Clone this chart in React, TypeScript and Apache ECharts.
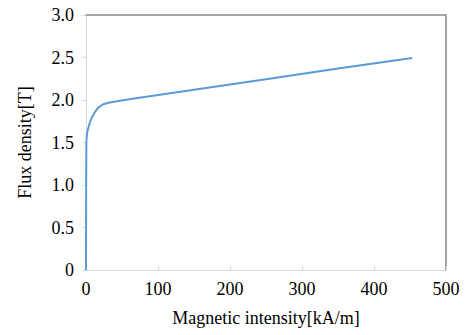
import React, { useEffect, useRef } from "react";
import * as echarts from "echarts";

const fieldH: number[] = [0, 0.2, 0.5, 1, 2, 3.5, 5.5, 8, 12.5, 17, 24, 33, 60, 150, 250, 350, 453];
const fluxB: number[] = [0, 1.0, 1.5, 1.57, 1.63, 1.68, 1.74, 1.79, 1.86, 1.91, 1.95, 1.97, 2.01, 2.12, 2.245, 2.37, 2.495];
const xTicks = { min: 0, max: 500, interval: 100 };
const yTicks = { min: 0, max: 3, interval: 0.5 };

const FONT = "'Times New Roman', 'Liberation Serif', serif";

export default function App() {
  const ref = useRef<HTMLDivElement>(null);
  useEffect(() => {
    if (!ref.current) return;
    const chart = echarts.init(ref.current, undefined, { renderer: "svg" });
    const labelStyle = { color: "#000", fontFamily: FONT, fontSize: 18 };
    chart.setOption({
      animation: false,
      textStyle: { fontFamily: FONT },
      grid: { left: 86, right: 20, top: 15, bottom: 65 },
      xAxis: [
        {
          type: "value",
          ...xTicks,
          name: "Magnetic intensity[kA/m]",
          nameLocation: "middle",
          nameGap: 39,
          nameTextStyle: labelStyle,
          axisLine: { onZero: false, lineStyle: { color: "#d9d9d9", width: 1 } },
          axisTick: { show: true, inside: true, length: 4, lineStyle: { color: "#d9d9d9" } },
          axisLabel: { ...labelStyle, margin: 10 },
          splitLine: { show: false },
        },
        {
          type: "value",
          position: "top",
          ...xTicks,
          axisLine: { show: true, onZero: false, lineStyle: { color: "#a6a6a6", width: 2 } },
          axisTick: { show: false },
          axisLabel: { show: false },
          splitLine: { show: false },
        },
      ],
      yAxis: [
        {
          type: "value",
          ...yTicks,
          name: "Flux density[T]",
          nameLocation: "middle",
          nameGap: 52,
          nameTextStyle: labelStyle,
          axisLine: { show: true, onZero: false, lineStyle: { color: "#d9d9d9", width: 1 } },
          axisTick: { show: true, length: 4, lineStyle: { color: "#d9d9d9" } },
          axisLabel: {
            ...labelStyle,
            margin: 12,
            formatter: (v: number) => (v === 0 ? "0" : v.toFixed(1)),
          },
          splitLine: { show: false },
        },
        {
          type: "value",
          position: "right",
          ...yTicks,
          axisLine: { show: true, onZero: false, lineStyle: { color: "#a6a6a6", width: 2 } },
          axisTick: { show: false },
          axisLabel: { show: false },
          splitLine: { show: false },
        },
      ],
      series: [
        {
          type: "line",
          data: fieldH.map((h, i) => [h, fluxB[i]]),
          smooth: false,
          showSymbol: false,
          lineStyle: { color: "#5b9bd5", width: 2, join: "round" },
        },
      ],
    });
    return () => chart.dispose();
  }, []);
  return (
    <div
      ref={ref}
      style={{ position: "absolute", left: 0, top: 0, width: 466, height: 335 }}
    />
  );
}
